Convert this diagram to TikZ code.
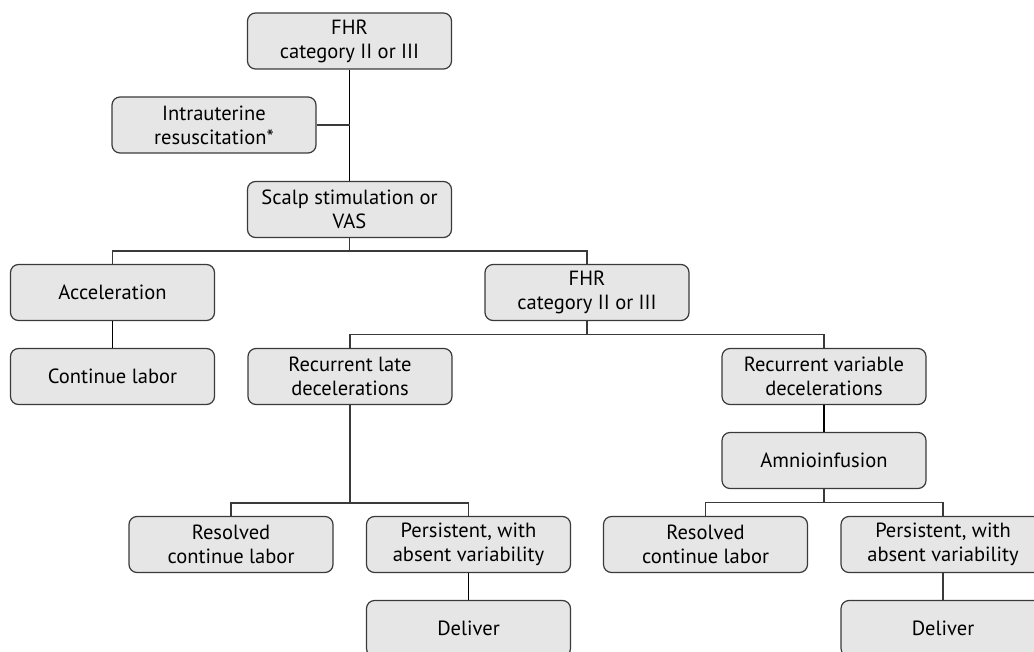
\documentclass[tikz,border=0pt]{standalone}
\usepackage{fontspec}
\setmainfont{PT Sans}
\definecolor{boxfill}{HTML}{E6E6E6}
\definecolor{boxline}{HTML}{3A3A3A}
\begin{document}
\begin{tikzpicture}[x=0.75pt, y=-0.75pt,
                    box/.style = {draw=boxline, fill=boxfill, line width=0.9pt, rounded corners=6pt,
                                  minimum width=153pt, minimum height=42pt, align=center,
                                  font=\fontsize{15.4}{18}\selectfont, inner sep=1pt},
                    link/.style = {line width=1.3pt, black},
                    branch/.style = {line width=0.9pt, boxline}]
                    \useasboundingbox (0,0) rectangle (1034,652);
                    \clip (0,0) rectangle (1034,652);

                    % boxes
                    \node[box] (fhrTop)    at (349.5, 41)    {FHR\\category II or III};
                    \node[box] (intra)     at (214, 125)     {Intrauterine\\resuscitation*};
                    \node[box] (scalp)     at (349.5, 209.5) {Scalp stimulation or\\VAS};
                    \node[box] (accel)     at (112.5, 292.5) {Acceleration};
                    \node[box] (contLabor) at (112.5, 376.5) {Continue labor};
                    \node[box] (fhrMid)    at (587, 292.5)   {FHR\\category II or III};
                    \node[box] (lateDec)   at (350, 376.5)   {Recurrent late\\decelerations};
                    \node[box] (varDec)    at (824, 376.5)   {Recurrent variable\\decelerations};
                    \node[box] (amnio)     at (824, 460.5)   {Amnioinfusion};
                    \node[box] (resolvedA) at (231, 544.5)   {Resolved\\continue labor};
                    \node[box] (persistA)  at (468.5, 544.5) {Persistent, with\\absent variability};
                    \node[box] (deliverA)  at (468.5, 628.5) {Deliver};
                    \node[box] (resolvedB) at (705.5, 544.5) {Resolved\\continue labor};
                    \node[box] (persistB)  at (943, 544.5)   {Persistent, with\\absent variability};
                    \node[box] (deliverB)  at (943, 628.5)   {Deliver};

                    % junctions
                    \coordinate (jScalp) at (349.5, 251);
                    \coordinate (jMid)   at (587, 334.5);
                    \coordinate (jLate)  at (350, 503);
                    \coordinate (jAmnio) at (824, 502.5);

                    % top
                    \draw[link] (fhrTop) -- (scalp);
                    \draw[branch] (intra.east) -- (intra.east -| fhrTop.south);

                    % scalp
                    \draw[branch] (scalp) -- (jScalp) -| (accel);
                    \draw[branch] (jScalp) -| (fhrMid);
                    \draw[link] (accel) -- (contLabor);

                    % fhr
                    \draw[branch] (fhrMid) -- (jMid) -| (lateDec);
                    \draw[branch] (jMid) -| (varDec);

                    % late
                    \draw[branch] (lateDec) -- (jLate) -| (resolvedA);
                    \draw[branch] (jLate) -| (persistA);
                    \draw[link] (persistA) -- (deliverA);

                    % variable
                    \draw[link] (varDec) -- (amnio);
                    \draw[branch] (amnio) -- (jAmnio) -| (resolvedB);
                    \draw[branch] (jAmnio) -| (persistB);
                    \draw[branch] (persistB) -- (deliverB);

                \end{tikzpicture}
\end{document}
